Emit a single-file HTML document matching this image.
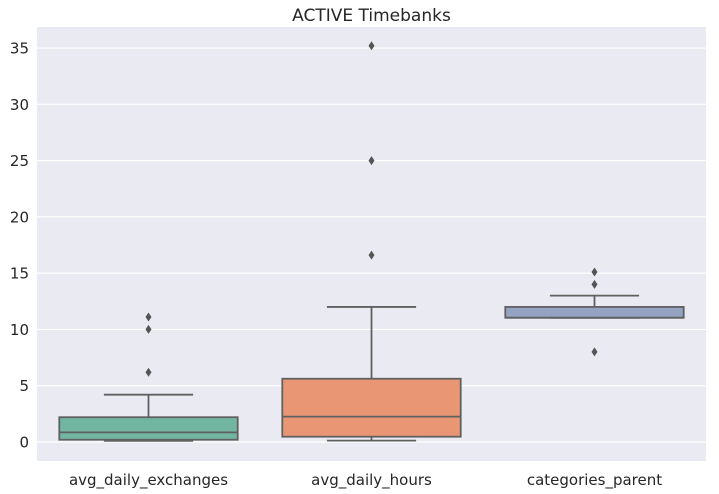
<!DOCTYPE html>
<html><head><meta charset="utf-8"><style>
body{margin:0;background:#fff;}
svg{display:block;font-family:"DejaVu Sans","Liberation Sans",sans-serif;}
</style></head><body>
<svg id="chart" width="719" height="494"></svg>
<script>
const categories=["avg_daily_exchanges","avg_daily_hours","categories_parent"];
const q1s=[0.2,0.47,11.04];
const medians=[0.85,2.25,11.04];
const q3s=[2.2,5.62,12.0];
const whiskerLows=[0.1,0.12,11.04];
const whiskerHighs=[4.2,12.0,13.0];
const outliers=[[6.2,10.0,11.1],[16.6,25.0,35.2],[14.0,15.1,8.0]];
const yTicks=[0,5,10,15,20,25,30,35];
const colors=["#72b6a1","#e99675","#95a3c3"];

const NS="http://www.w3.org/2000/svg";
const svg=document.getElementById('chart');
const L=37,R=706,T=27,B=461,yMin=-1.69,yMax=36.87;
const y=v=>B-(v-yMin)/(yMax-yMin)*(B-T);
const band=(R-L)/categories.length;
const xc=i=>L+band*(i+0.5);
function mk(tag,attrs,name){const e=document.createElementNS(NS,tag);for(const k in attrs)e.setAttribute(k,attrs[k]);


svg.appendChild(e);return e;}
mk('rect',{x:L,y:T,width:R-L,height:B-T,fill:'#eaeaf2'},'plot-background');
yTicks.forEach(t=>{
mk('line',{x1:L,x2:R,y1:y(t),y2:y(t),stroke:'#fff','stroke-width':1.2},'y-gridline');
const tx=mk('text',{x:L-8,y:y(t)+5.5,'text-anchor':'end','font-size':15,fill:'#262626'},'y-tick-label');tx.textContent=t;
});
const t=mk('text',{x:(L+R)/2,y:21,'text-anchor':'middle','font-size':17,fill:'#262626'},'chart-title');t.textContent='ACTIVE Timebanks';
const bw=band*0.8,cw=bw/2,st='#606060';
categories.forEach((c,i)=>{
const x=xc(i);
mk('line',{x1:x,x2:x,y1:y(q3s[i]),y2:y(whiskerHighs[i]),stroke:st,'stroke-width':1.8},'upper-whisker');
mk('line',{x1:x,x2:x,y1:y(q1s[i]),y2:y(whiskerLows[i]),stroke:st,'stroke-width':1.8},'lower-whisker');
mk('line',{x1:x-cw/2,x2:x+cw/2,y1:y(whiskerHighs[i]),y2:y(whiskerHighs[i]),stroke:st,'stroke-width':1.8},'upper-cap');
mk('line',{x1:x-cw/2,x2:x+cw/2,y1:y(whiskerLows[i]),y2:y(whiskerLows[i]),stroke:st,'stroke-width':1.8},'lower-cap');
mk('rect',{x:x-bw/2,y:y(q3s[i]),width:bw,height:Math.max(0.5,y(q1s[i])-y(q3s[i])),fill:colors[i],stroke:st,'stroke-width':1.8},'box-'+c);
mk('line',{x1:x-bw/2,x2:x+bw/2,y1:y(medians[i]),y2:y(medians[i]),stroke:st,'stroke-width':1.8},'median-line');
outliers[i].forEach(v=>{const yy=y(v);
mk('path',{d:`M${x} ${yy-4.5}L${x+3} ${yy}L${x} ${yy+4.5}L${x-3} ${yy}Z`,fill:'#555'},'outlier-point');});
const lb=mk('text',{x:x,y:485,'text-anchor':'middle','font-size':15,fill:'#262626'},'x-tick-label');lb.textContent=c;
});
</script>
</body></html>
